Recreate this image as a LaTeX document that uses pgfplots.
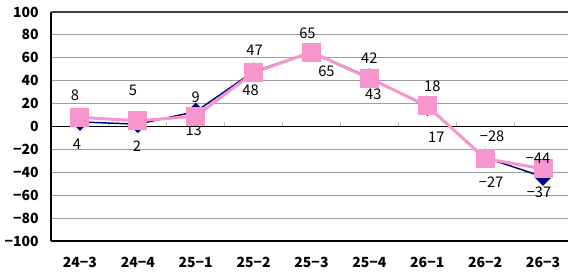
\documentclass[border=0pt]{standalone}
\usepackage{pgfplots}
\pgfplotsset{compat=1.18}
\usepackage{pgfplotstable}
\usepackage{fontspec}
\newfontfamily\jp{Noto Sans CJK JP}
\definecolor{navyb}{RGB}{0,0,128}
\definecolor{pinkc}{RGB}{247,150,204}

% blue series (diamonds): x, y, label, label dx (pt), label dy (pt)
\pgfplotstableread{
x y lab dx dy
0 4 4 -2.25 -16.5
1 2 2 -0.75 -16.5
2 13 13 -1.5 -13.9
3 48 48 -2.25 -13.9
4 65 65 11.25 -14.25
5 43 43 3 -12.75
6 17 17 6.75 -22.5
7 -27 −27 4.5 -18.4
8 -44 −37 -3 -11.25
}\bluedata

% pink series (squares)
\pgfplotstableread{
x y lab dx dy
0 8 8 -3.75 16.5
1 5 5 -3.75 22.5
2 9 9 0 14.25
3 47 47 0.75 16.5
4 65 65 -3 14.25
5 42 42 0 15
6 18 18 3.75 15
7 -28 −28 5.25 16.9
8 -37 −44 -3.75 8.25
}\pinkdata

\begin{document}
\begin{tikzpicture}
\begin{axis}[
  name=ax,
  scale only axis,
  width=390.75pt, height=171.75pt,
  xmin=-0.5, xmax=8.5, ymin=-100, ymax=100,
  axis x line*=bottom, axis y line*=left,
  axis line style={black, line width=1.1pt},
  xtick={0,...,8},
  xticklabels={24−3,24−4,25−1,25−2,25−3,25−4,26−1,26−2,26−3},
  ytick={-100,-80,...,100},
  yticklabels={−100,−80,−60,−40,−20,0,20,40,60,80,100},
  major tick length=0pt,
  ticklabel style={font=\jp\bfseries\fontsize{10.5}{12}\selectfont},
  xticklabel style={anchor=center, inner sep=0pt, yshift=-15.75pt},
  yticklabel style={anchor=east, inner sep=0pt, xshift=-9pt},
  ymajorgrids,
  grid style={draw=black!38, line width=0.75pt},
  clip=false,
]
\draw[black!75, line width=1.1pt] (rel axis cs:0,1) -- (rel axis cs:1,1);
\draw[black, line width=1.1pt] (axis cs:-0.5,0) -- (axis cs:8.5,0);
\pgfplotsinvokeforeach{0.5,1.5,2.5,3.5,4.5,5.5,6.5,7.5}{
  \draw[black!25, line width=0.75pt] (axis cs:#1,0) -- ([yshift=3pt]axis cs:#1,0);
}
\addplot[navyb, line width=1.1pt, mark=square*,
  mark options={rotate=45, mark size=4.2pt, fill=navyb, draw=navyb},
  point meta=explicit symbolic,
  visualization depends on={\thisrow{dx}\as\ldx},
  visualization depends on={\thisrow{dy}\as\ldy},
  nodes near coords={\jp\fontsize{11}{12}\selectfont\pgfplotspointmeta},
  nodes near coords style={anchor=center, text=black, xshift=\ldx, yshift=\ldy}]
  table[x=x, y=y, meta=lab]{\bluedata};
\addplot[pinkc, line width=2.25pt, mark=square*,
  mark options={mark size=6.75pt, fill=pinkc, draw=pinkc, line width=0pt},
  point meta=explicit symbolic,
  visualization depends on={\thisrow{dx}\as\ldx},
  visualization depends on={\thisrow{dy}\as\ldy},
  nodes near coords={\jp\fontsize{11}{12}\selectfont\pgfplotspointmeta},
  nodes near coords style={anchor=center, text=black, xshift=\ldx, yshift=\ldy}]
  table[x=x, y=y, meta=lab]{\pinkdata};
\end{axis}
\pgfresetboundingbox
\path[use as bounding box] ([shift={(-38.25pt,-25.5pt)}]ax.south west) rectangle ++(426pt,206.25pt);
\end{tikzpicture}
\end{document}
